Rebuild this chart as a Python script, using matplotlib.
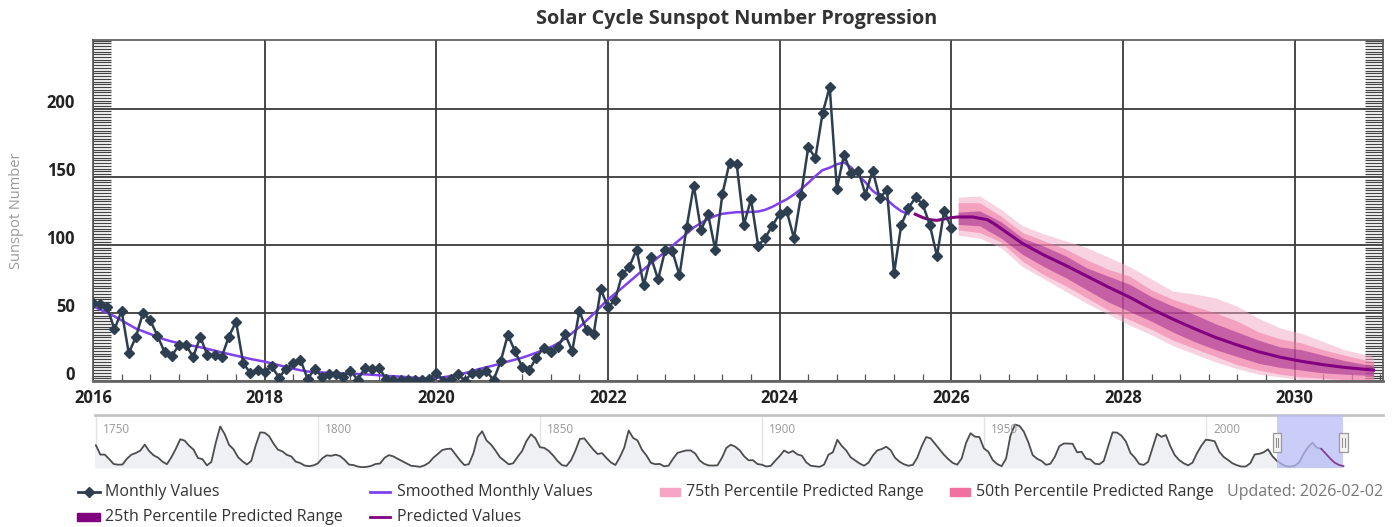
import numpy as np
import matplotlib.pyplot as plt
import matplotlib.transforms as mtransforms
from matplotlib.lines import Line2D
from matplotlib.patches import Rectangle, Circle
from matplotlib.ticker import MultipleLocator

plt.rcParams['font.family'] = ['Open Sans', 'DejaVu Sans']

# monthly sunspot numbers, Jan 2016 .. Jan 2026
monthly_values = [
    57.0, 56.4, 54.1, 37.9, 51.5, 20.5, 32.4, 50.2, 44.6, 33.4, 21.4, 18.5,
    26.1, 26.4, 17.7, 32.3, 18.9, 19.2, 17.8, 32.6, 43.7, 13.2, 5.7, 8.2,
    6.8, 10.7, 2.5, 8.9, 13.1, 15.6, 1.6, 8.7, 3.3, 4.9, 4.9, 3.1,
    7.7, 0.8, 9.4, 9.1, 9.9, 1.2, 0.9, 0.5, 1.1, 0.4, 0.5, 1.5,
    6.2, 0.2, 1.5, 5.2, 0.2, 5.8, 6.1, 7.5, 0.6, 14.4, 34.0, 21.8,
    10.4, 8.2, 17.2, 24.5, 21.2, 25.0, 34.3, 22.0, 51.3, 37.4, 34.8, 67.5,
    54.0, 59.7, 78.5, 84.1, 96.5, 70.5, 91.4, 74.6, 96.0, 95.5, 77.6, 113.1,
    143.6, 110.9, 122.5, 96.4, 137.4, 160.5, 159.1, 114.8, 133.6, 99.4, 105.4, 114.2,
    123.0, 124.7, 104.9, 136.5, 171.7, 163.9, 196.6, 216.0, 141.1, 166.3, 152.5, 154.5,
    137.0, 154.6, 134.2, 140.6, 79.0, 114.6, 127.0, 134.8, 130.0, 114.6, 91.7, 125.0,
    112.6,
]

# smoothed monthly values, Jan 2016 .. Jul 2025
smoothed_values = [
    55.0, 52.5, 50.0, 47.5, 44.5, 41.5, 38.5, 36.5, 34.5, 32.5, 30.5, 29.0,
    27.8, 26.8, 25.8, 24.8, 23.6, 22.3, 21.0, 19.8, 18.6, 17.4, 16.2, 15.2,
    14.2, 12.9, 11.6, 10.3, 9.0, 7.9, 7.0, 6.6, 6.3, 6.0, 5.8, 5.6,
    5.4, 5.2, 4.9, 4.6, 4.2, 3.8, 3.5, 3.2, 2.8, 2.4, 2.0, 1.8,
    2.2, 2.8, 3.6, 4.6, 5.8, 7.3, 8.8, 10.1, 11.4, 12.8, 14.3, 15.7,
    17.1, 18.9, 20.8, 22.8, 24.9, 27.6, 31.2, 35.2, 39.6, 44.4, 49.4, 54.7,
    59.9, 64.2, 68.5, 73.0, 77.5, 82.0, 86.4, 90.7, 95.0, 99.3, 103.7, 108.2,
    112.8, 116.0, 119.0, 121.3, 122.8, 123.5, 124.0, 124.1, 124.2, 124.5, 125.8, 128.0,
    130.8, 133.5, 137.0, 141.0, 145.5, 150.5, 154.9, 156.7, 159.2, 160.6, 156.9, 151.0,
    146.0, 139.7, 135.9, 133.3, 128.5, 124.8, 122.6,
]

pred_years = [2025.58, 2025.67, 2025.75, 2025.83, 2025.92, 2026.0, 2026.08, 2026.25,
              2026.42, 2026.5, 2026.58, 2026.83, 2027.08, 2027.33, 2027.58, 2027.83,
              2028.08, 2028.33, 2028.58, 2028.83, 2029.08, 2029.33, 2029.58, 2029.83,
              2030.08, 2030.33, 2030.58, 2030.92]
pred_values = [122.5, 120.0, 118.5, 118.0, 119.0, 120.0, 120.5, 120.5,
               118.5, 115.5, 112.0, 101.0, 92.5, 85.0, 77.0, 69.0,
               61.5, 53.0, 45.5, 38.5, 32.0, 26.5, 21.5, 17.5,
               14.5, 12.0, 10.0, 8.0]

band_years = [2026.08, 2026.33, 2026.58, 2026.83, 2027.08, 2027.33, 2027.58, 2027.83,
              2028.08, 2028.33, 2028.58, 2028.83, 2029.08, 2029.33, 2029.58, 2029.83,
              2030.08, 2030.33, 2030.58, 2030.92]
p75_lo = [107, 105, 98, 84, 75, 66, 57, 49, 41, 34, 26, 20, 14, 9, 5, 3, 1, 0, 0, 0]
p50_lo = [111, 109, 102, 88, 78, 70, 61, 52, 45, 38, 30, 24, 18, 12, 8, 5, 3, 2, 1, 0]
p25_lo = [115, 114, 105, 93, 84, 76, 67, 58, 51, 44, 36, 29, 23, 18, 13, 10, 8, 6, 5, 4]
p25_hi = [124, 125, 117, 105, 99, 92, 83, 77, 71, 62, 55, 49, 42, 36, 30, 25, 23, 19, 15, 11]
p50_hi = [131, 131, 121, 109, 103, 97, 89, 82, 77, 67, 60, 55, 50, 44, 36, 31, 28, 23, 19, 14]
p75_hi = [135, 136, 126, 114, 108, 103, 98, 91, 84, 75, 66, 64, 61, 55, 46, 39, 35, 29, 23, 18]

# yearly sunspot numbers for the navigator, 1749 .. 2031
nav_values = [
    134.0, 139.0, 79.8, 79.7, 51.2, 20.3, 16.0, 17.0, 54.0, 79.3, 90.0,
    104.8, 143.2, 102.0, 75.2, 60.7, 34.8, 19.0, 63.0, 116.3, 176.8,
    168.0, 136.0, 110.8, 58.0, 51.0, 11.7, 33.0, 154.2, 257.3, 209.8,
    141.3, 113.5, 64.2, 38.0, 17.0, 40.2, 138.2, 220.0, 218.2, 196.8,
    149.8, 111.0, 100.0, 78.2, 68.3, 35.5, 26.7, 10.7, 6.8, 11.3,
    24.2, 56.7, 75.0, 71.8, 79.2, 70.3, 46.8, 16.8, 13.5, 4.2,
    0.0, 2.3, 8.3, 20.3, 23.2, 59.0, 76.3, 68.3, 52.9, 38.5,
    24.2, 9.2, 6.3, 2.2, 11.4, 28.2, 59.9, 83.0, 108.5, 115.2,
    117.4, 80.8, 44.3, 13.4, 19.5, 85.8, 192.7, 227.3, 168.7, 143.0,
    105.5, 63.3, 40.3, 18.1, 25.1, 65.8, 102.7, 166.3, 208.3, 182.5,
    126.3, 122.0, 102.7, 74.1, 39.0, 12.7, 8.2, 43.4, 104.4, 178.3,
    182.2, 146.6, 112.1, 83.5, 89.2, 57.8, 30.7, 13.9, 62.8, 123.6,
    232.0, 185.3, 169.2, 110.1, 74.5, 28.3, 18.9, 20.7, 5.7, 10.0,
    53.7, 90.5, 99.0, 106.1, 105.8, 86.3, 42.4, 21.8, 11.2, 10.4,
    11.8, 59.5, 121.7, 142.0, 130.0, 106.6, 69.4, 43.8, 44.4, 20.2,
    15.7, 4.6, 8.5, 40.8, 70.1, 105.5, 90.1, 102.8, 80.9, 73.2,
    30.9, 9.5, 6.0, 2.4, 16.1, 79.0, 95.0, 173.6, 134.6, 105.7,
    62.7, 43.5, 23.7, 9.7, 27.9, 74.0, 106.5, 114.7, 129.7, 108.2,
    59.4, 35.1, 18.6, 9.2, 14.6, 60.2, 132.8, 190.6, 182.6, 148.0,
    113.0, 79.2, 50.8, 27.1, 16.1, 55.3, 154.3, 214.7, 193.0, 190.7,
    118.9, 98.3, 45.0, 20.1, 6.6, 54.2, 200.7, 269.3, 261.7, 225.1,
    159.0, 76.4, 53.4, 39.9, 15.0, 22.0, 66.8, 132.9, 150.0, 149.4,
    148.0, 94.4, 97.6, 54.1, 49.2, 22.5, 18.4, 39.3, 131.0, 220.1,
    218.9, 198.9, 162.4, 91.0, 60.5, 20.6, 14.8, 33.9, 123.0, 211.1,
    191.8, 203.3, 133.0, 76.1, 44.9, 25.1, 11.6, 28.9, 88.3, 136.3,
    173.9, 170.4, 163.6, 99.3, 65.3, 45.8, 24.7, 12.6, 4.2, 4.8,
    24.9, 80.8, 84.5, 94.0, 113.3, 69.8, 39.8, 21.7, 7.0, 3.6,
    8.8, 29.6, 83.2, 125.5, 154.7, 123.6, 116.0, 86.0, 55.0, 29.0,
    14.0, 7.0,
]
nav_labels = [1750, 1800, 1850, 1900, 1950, 2000]

monthly_color = '#2c3e50'
smooth_color = '#8040ee'
pred_color = '#800080'
c75 = '#f4a6c4'
c50 = '#f0709f'
c25 = '#800080'

W, H = 1396, 527


def fx(x):
    return x / W


def fy(y):
    return 1 - y / H


fig = plt.figure(figsize=(W / 100, H / 100), dpi=100)

# ---- main chart ----
ax = fig.add_axes([fx(93), fy(381), fx(1383 - 93), (381 - 40) / H])

months_m = 2016 + np.arange(len(monthly_values)) / 12
months_s = 2016 + np.arange(len(smoothed_values)) / 12

ax.fill_between(band_years, p75_lo, p75_hi, color=c75, alpha=0.5, lw=0, zorder=1)
ax.fill_between(band_years, p50_lo, p50_hi, color=c50, alpha=0.5, lw=0, zorder=1.1)
ax.fill_between(band_years, p25_lo, p25_hi, color=c25, alpha=0.4, lw=0, zorder=1.2)
ax.plot(months_s, smoothed_values, color=smooth_color, lw=1.8, zorder=3)
ax.plot(pred_years, pred_values, color=pred_color, lw=2.2, zorder=3)
ax.plot(months_m, monthly_values, color=monthly_color, lw=1.8, marker='D', ms=5,
        mec=monthly_color, zorder=4)

ax.set_xlim(2016, 2031.03)
ax.set_ylim(0, 250.5)
ax.set_xticks(range(2016, 2031, 2))
ax.set_yticks([0, 50, 100, 150, 200])
ax.xaxis.set_minor_locator(MultipleLocator(1 / 3))
ax.yaxis.set_minor_locator(MultipleLocator(2))
ax.grid(True, which='major', color='#3a3a3a', lw=1.3)
ax.set_axisbelow(True)
ax.tick_params(axis='both', which='major', length=0, labelsize=12, labelcolor='#222')
ax.tick_params(axis='x', which='major', pad=6)
ax.tick_params(axis='y', which='major', pad=13)
ax.tick_params(axis='y', which='minor', direction='in', length=13, width=0.9,
               color='#444', left=True, right=True)
ax.tick_params(axis='x', which='minor', direction='in', length=5, width=0.9,
               color='#555', bottom=True, top=False)
for lab in ax.get_xticklabels() + ax.get_yticklabels():
    lab.set_fontweight('bold')
offset = mtransforms.ScaledTranslation(0, 0.08, fig.dpi_scale_trans)
for lab in ax.get_yticklabels():
    lab.set_transform(lab.get_transform() + offset)
for side in ['left', 'right', 'top']:
    ax.spines[side].set_color('#555')
    ax.spines[side].set_linewidth(1.2)
ax.spines['bottom'].set_color('#666')
ax.spines['bottom'].set_linewidth(2)

fig.text(fx(737), fy(19), 'Solar Cycle Sunspot Number Progression', ha='center',
         va='center', fontsize=14.3, fontweight='bold', color='#333')
fig.text(fx(17), fy(211), 'Sunspot Number', rotation=90, ha='center', va='center',
         fontsize=10.5, color='#999')

# ---- navigator ----
nav = fig.add_axes([fx(95), fy(468), fx(1383 - 95), (468 - 415) / H])
nav_years = 1749 + np.arange(len(nav_values))
nav.set_xlim(1749.8, 2039.9)
nav.set_ylim(-5, 330)
for yr in nav_labels:
    nav.axvline(yr, color='#e3e3e3', lw=1, zorder=0)
    nav.text(yr + 1.6, 0.85, str(yr), transform=nav.get_xaxis_transform(),
             fontsize=8.5, color='#999', va='top', ha='left')
nav.fill_between(nav_years, -5, nav_values, color='#eef0f4', lw=0, zorder=1)
nav.plot(nav_years[:-5], nav_values[:-5], color='#4d4d4d', lw=1.3, zorder=2)
nav.plot(nav_years[-6:], nav_values[-6:], color='#8a3a9a', lw=1.3, zorder=5)
nav.axvspan(2016, 2031, color='#b7bdf5', alpha=0.75, lw=0, zorder=4)
btr = nav.get_xaxis_transform()
for hx in (2016, 2031):
    nav.add_patch(Rectangle((hx - 0.95, 0.3), 1.9, 0.36, transform=btr,
                            facecolor='#f2f2f2', edgecolor='#999', lw=0.9, zorder=6))
    nav.plot([hx - 0.3, hx - 0.3], [0.4, 0.56], transform=btr, color='#888', lw=0.7, zorder=7)
    nav.plot([hx + 0.3, hx + 0.3], [0.4, 0.56], transform=btr, color='#888', lw=0.7, zorder=7)
nav.set_xticks([])
nav.set_yticks([])
for side in ['left', 'right', 'bottom']:
    nav.spines[side].set_visible(False)
nav.spines['top'].set_color('#c4c4c4')
nav.spines['top'].set_linewidth(2)

# ---- legend ----
leg_fs = 11.5
leg_col = '#333'


def leg_line(x0, x1, y, color, lw=2, marker=None):
    fig.add_artist(Line2D([fx(x0), fx(x1)], [fy(y), fy(y)], color=color, lw=lw,
                          transform=fig.transFigure))
    if marker:
        fig.add_artist(Line2D([fx((x0 + x1) / 2)], [fy(y)], color=color, marker=marker,
                              ms=5, transform=fig.transFigure))


def leg_box(x0, x1, y, color):
    fig.add_artist(Rectangle((fx(x0), fy(y + 4)), fx(x1 - x0), 8 / H, color=color,
                             transform=fig.transFigure))


def leg_text(x, y, s, color=leg_col, size=leg_fs, ha='left'):
    fig.text(fx(x), fy(y), s, fontsize=size, color=color, va='center', ha=ha)


leg_line(78, 100, 492, monthly_color, marker='D')
leg_text(105, 492, 'Monthly Values')
leg_line(370, 390, 492, smooth_color)
leg_text(397, 492, 'Smoothed Monthly Values')
leg_box(660, 680, 492, c75)
leg_text(686, 492, '75th Percentile Predicted Range')
leg_box(950, 970, 492, c50)
leg_text(976, 492, '50th Percentile Predicted Range')
leg_text(1383, 492, 'Updated: 2026-02-02', color='#777', size=11.5, ha='right')
leg_box(77, 100, 517, c25)
leg_text(105, 517, '25th Percentile Predicted Range')
leg_line(370, 390, 517, pred_color)
leg_text(397, 517, 'Predicted Values')

# partially visible logo at the bottom edge
fig.add_artist(Circle((fx(1283), fy(545)), 22 / W, color='#1f3f8f',
                      transform=fig.transFigure))

fig.savefig('out.png', dpi=100)
